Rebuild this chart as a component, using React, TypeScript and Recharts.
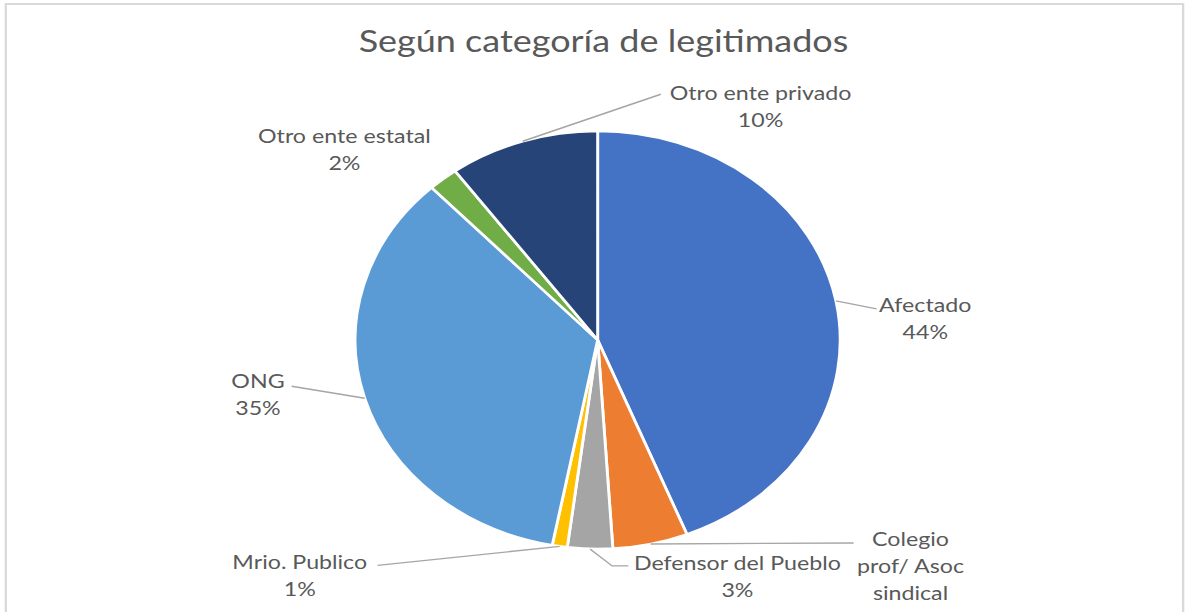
import { Cell, Pie, PieChart } from 'recharts';

const SCALE_X = 1.1605;
const W = 1022;
const H = 612;

const categories = [
  'Afectado',
  'Colegio\nprof/ Asoc\nsindical',
  'Defensor del Pueblo',
  'Mrio. Publico',
  'ONG',
  'Otro ente estatal',
  'Otro ente privado',
];
const values = [44, 5, 3, 1, 35, 2, 10];
const sliceColors = ['#4472c4', '#ed7d31', '#a5a5a5', '#ffc000', '#5b9bd5', '#70ad47', '#264478'];

// label placement relative to the slice edge at mid angle; leader points relative to the text anchor
const labelLayout: { dx: number; dy: number; leader: [number, number][] }[] = [
  { dx: 77, dy: 11, leader: [[-42, -3]] },
  { dx: 224, dy: 2, leader: [[-49, -3]] },
  { dx: 127, dy: 21, leader: [[-108, -4], [-94, -4]] },
  { dx: -224, dy: 23, leader: [[67, -4]] },
  { dx: -92, dy: -10, leader: [[29, -2]] },
  { dx: -85, dy: -36, leader: [] },
  { dx: 205, dy: -41, leader: [[-86, -6]] },
];

const data = categories.map((name, i) => ({ name, value: values[i] }));

const RAD = Math.PI / 180;
const TEXT = '#595959';
const FONT = 'Lato, "Open Sans", sans-serif';

function renderLabel(props: any) {
  const { cx, cy, midAngle, outerRadius, percent, index, name } = props;
  const ex = cx + outerRadius * Math.cos(-midAngle * RAD);
  const ey = cy + outerRadius * Math.sin(-midAngle * RAD);
  const lay = labelLayout[index];
  const tx = ex + lay.dx;
  const ty = ey + lay.dy;
  const lines = String(name).split('\n');
  lines.push(`${Math.round(percent * 100)}%`);
  const pts = [[ex, ey], ...lay.leader.map(([x, y]) => [tx + x, ty + y])];
  return (
    <g key={`lbl-${index}`}>
      {lay.leader.length > 0 && (
        <polyline
          points={pts.map((p) => p.join(',')).join(' ')}
          fill="none"
          stroke="#a6a6a6"
          strokeWidth={1.4}
        />
      )}
      <text x={tx} y={ty} textAnchor="middle" fill={TEXT} fontSize={20} fontFamily={FONT}>
        {lines.map((l, i) => (
          <tspan key={i} x={tx} dy={i === 0 ? 0 : 27}>
            {l}
          </tspan>
        ))}
      </text>
    </g>
  );
}

export default function App() {
  return (
    <div
      style={{
        position: 'absolute',
        left: 0,
        top: 0,
        width: W,
        height: H,
        overflow: 'hidden',
        background: '#fff',
        transform: `scaleX(${SCALE_X})`,
        transformOrigin: '0 0',
      }}
    >
      <svg width={W} height={H} style={{ position: 'absolute', left: 0, top: 0 }}>
        <rect x={5} y={4} width={1014.5} height={700} fill="none" stroke="#d9d9d9" strokeWidth={2} />
        <text x={520} y={52} textAnchor="middle" fill={TEXT} fontSize={31} fontFamily={FONT}>
          Según categoría de legitimados
        </text>
      </svg>
      <div style={{ position: 'absolute', left: 0, top: 0 }}>
        <PieChart width={W} height={H} margin={{ top: 0, right: 0, bottom: 0, left: 0 }}>
          <Pie
            data={data}
            dataKey="value"
            nameKey="name"
            cx={515}
            cy={340}
            outerRadius={209}
            startAngle={90}
            endAngle={-270}
            stroke="#ffffff"
            strokeWidth={2.5}
            label={renderLabel}
            labelLine={false}
            isAnimationActive={false}
          >
            {data.map((d, i) => (
              <Cell key={d.name} fill={sliceColors[i]} />
            ))}
          </Pie>
        </PieChart>
      </div>
    </div>
  );
}
